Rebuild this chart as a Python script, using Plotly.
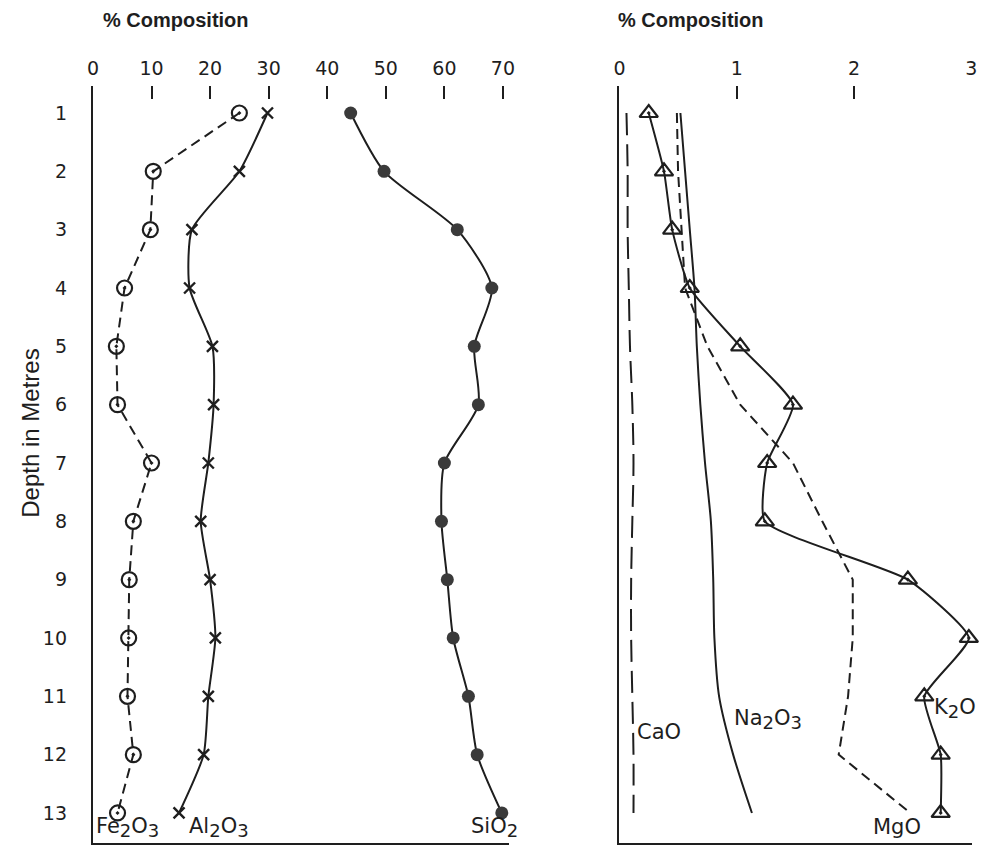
import plotly.graph_objects as go

depth = [1, 2, 3, 4, 5, 6, 7, 8, 9, 10, 11, 12, 13]

# Left panel (% composition, 0-70)
fe2o3 = [25, 10.3, 9.8, 5.4, 4.0, 4.2, 10.0, 6.9, 6.2, 6.1, 5.9, 6.9, 4.2]
al2o3 = [29.8, 25, 16.9, 16.5, 20.4, 20.6, 19.7, 18.4, 20.0, 20.9, 19.7, 18.9, 14.7]
sio2 = [44, 49.7, 62.2, 68.1, 65.1, 65.8, 60.0, 59.5, 60.5, 61.5, 64.1, 65.6, 69.8]

# Right panel (% composition, 0-3)
k2o = [0.25, 0.38, 0.45, 0.60, 1.03, 1.48, 1.26, 1.24, 2.46, 2.98, 2.60, 2.74, 2.74]
mgo = [0.49, 0.50, 0.53, 0.56, 0.75, 1.03, 1.48, 1.73, 1.99, 1.99, 1.95, 1.87, 2.48]
na2o3 = [0.52, 0.56, 0.60, 0.64, 0.66, 0.69, 0.73, 0.78, 0.80, 0.81, 0.85, 0.97, 1.13]
cao = [0.06, 0.07, 0.07, 0.08, 0.09, 0.11, 0.12, 0.11, 0.10, 0.10, 0.11, 0.12, 0.12]

left_ticks = [0, 10, 20, 30, 40, 50, 60, 70]
right_ticks = [0, 1, 2, 3]

INK = "#1e1e1e"
FONT = "DejaVu Sans"
W, H = 984, 846

fig = go.Figure()

fig.add_trace(go.Scatter(x=fe2o3, y=depth, mode="lines+markers", xaxis="x", yaxis="y",
                         line=dict(color=INK, width=2, dash="10px,6px"),
                         marker=dict(symbol="circle-open-dot", size=15, color=INK, line=dict(width=2.2)),
                         cliponaxis=False, showlegend=False))
fig.add_trace(go.Scatter(x=al2o3, y=depth, mode="lines+markers", xaxis="x", yaxis="y",
                         line=dict(color=INK, width=2, shape="spline", smoothing=0.6),
                         marker=dict(symbol="x-thin", size=11, color=INK, line=dict(width=2.4, color=INK)),
                         cliponaxis=False, showlegend=False))
fig.add_trace(go.Scatter(x=sio2, y=depth, mode="lines+markers", xaxis="x", yaxis="y",
                         line=dict(color=INK, width=2, shape="spline", smoothing=0.7),
                         marker=dict(symbol="circle", size=13, color="#3a3a3a"),
                         cliponaxis=False, showlegend=False))

fig.add_trace(go.Scatter(x=cao, y=depth, mode="lines", xaxis="x2", yaxis="y2",
                         line=dict(color=INK, width=2, dash="22px,9px", shape="spline"),
                         cliponaxis=False, showlegend=False))
fig.add_trace(go.Scatter(x=na2o3, y=depth, mode="lines", xaxis="x2", yaxis="y2",
                         line=dict(color=INK, width=2, shape="spline", smoothing=0.8),
                         cliponaxis=False, showlegend=False))
fig.add_trace(go.Scatter(x=mgo, y=depth, mode="lines", xaxis="x2", yaxis="y2",
                         line=dict(color=INK, width=2, dash="10px,6px"),
                         cliponaxis=False, showlegend=False))
fig.add_trace(go.Scatter(x=k2o, y=depth, mode="lines+markers", xaxis="x2", yaxis="y2",
                         line=dict(color=INK, width=2, shape="spline", smoothing=0.5),
                         marker=dict(symbol="triangle-up-open-dot", size=16, color=INK, line=dict(width=2.2)),
                         cliponaxis=False, showlegend=False))

# pixel geometry
top_px, bot_px = 86, 843
d1_px, px_per_m = 113, 58.33
y_top = 1 - (d1_px - top_px) / px_per_m
y_bot = 1 + (bot_px - d1_px) / px_per_m
ydom = [1 - bot_px / H, 1 - top_px / H]

l0, l1 = 88, 509
lppu = 5.93
r0, r1 = 621, 978
rppu = 118.7

base_axis = dict(showgrid=False, zeroline=False, showline=True, linecolor=INK, linewidth=2.2,
                 ticks="", showticklabels=False, fixedrange=True)
top_axis = dict(showgrid=False, zeroline=False, showline=False, side="top",
                ticks="inside", ticklen=13, tickwidth=2, tickcolor=INK,
                tickfont=dict(family=FONT, size=19, color=INK), ticklabelstandoff=6)

fig.update_layout(
    width=W, height=H, margin=dict(l=0, r=0, t=0, b=0),
    paper_bgcolor="white", plot_bgcolor="white",
    xaxis=dict(base_axis, domain=[l0 / W, l1 / W], range=[0, (l1 - l0) / lppu], anchor="y"),
    xaxis3=dict(top_axis, overlaying="x", range=[0, (l1 - l0) / lppu], anchor="y",
                tickvals=left_ticks, ticktext=[str(v) for v in left_ticks]),
    xaxis2=dict(base_axis, domain=[r0 / W, r1 / W], range=[0, (r1 - r0) / rppu], anchor="y2"),
    xaxis4=dict(top_axis, overlaying="x2", range=[0, (r1 - r0) / rppu], anchor="y2",
                tickvals=right_ticks, ticktext=[str(v) for v in right_ticks]),
    yaxis=dict(base_axis, domain=ydom, range=[y_bot, y_top], anchor="x", mirror=False,
               showticklabels=True, tickvals=depth, ticktext=[str(d) for d in depth],
               tickfont=dict(family=FONT, size=19, color=INK), ticklabelstandoff=20),
    yaxis2=dict(base_axis, domain=ydom, range=[y_bot, y_top], anchor="x2"),
)
fig.add_trace(go.Scatter(x=[None], y=[None], xaxis="x3", yaxis="y", showlegend=False))
fig.add_trace(go.Scatter(x=[None], y=[None], xaxis="x4", yaxis="y2", showlegend=False))

lab_font = dict(family=FONT, size=21, color=INK)


def sub(s):
    return "<sub><span style='font-size:18px'>" + s + "</span></sub>"


labels = [
    ("x", "y", 5.9, 13.25, "Fe" + sub("2") + "O" + sub("3")),
    ("x", "y", 21.5, 13.25, "Al" + sub("2") + "O" + sub("3")),
    ("x", "y", 68.5, 13.25, "SiO" + sub("2")),
    ("x2", "y2", 0.34, 11.61, "CaO"),
    ("x2", "y2", 1.27, 11.40, "Na" + sub("2") + "O" + sub("3")),
    ("x2", "y2", 2.86, 11.21, "K" + sub("2") + "O"),
    ("x2", "y2", 2.37, 13.24, "MgO"),
]
for xr, yr, xv, yv, t in labels:
    fig.add_annotation(x=xv, y=yv, xref=xr, yref=yr, text=t, showarrow=False, font=lab_font,
                       xanchor="center", yanchor="middle")

title_font = dict(family="Liberation Sans", size=20, color=INK)
fig.add_annotation(x=172 / W, y=1 - 20 / H, xref="paper", yref="paper", text="<b>% Composition</b>",
                   showarrow=False, font=title_font, xanchor="center", yanchor="middle")
fig.add_annotation(x=693 / W, y=1 - 20 / H, xref="paper", yref="paper", text="<b>% Composition</b>",
                   showarrow=False, font=title_font, xanchor="center", yanchor="middle")
fig.add_annotation(x=24 / W, y=1 - 433 / H, xref="paper", yref="paper", text="Depth in Metres",
                   textangle=-90, showarrow=False, xanchor="center", yanchor="middle",
                   font=dict(family="Liberation Sans", size=24, color=INK))

fig.write_html("out.html")
